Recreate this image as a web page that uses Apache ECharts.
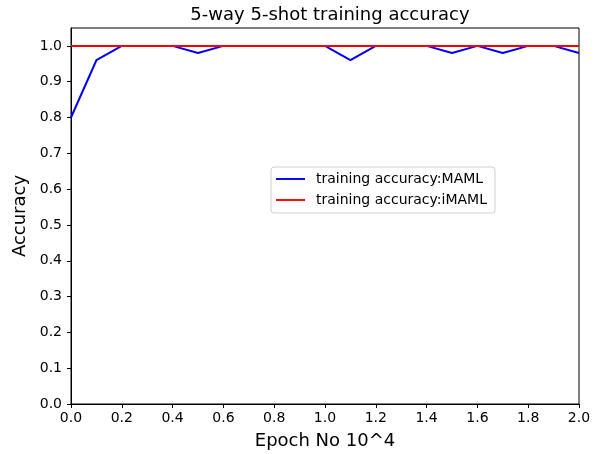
<!DOCTYPE html>
<html>
<head>
<meta charset="utf-8">
<script src="https://cdn.jsdelivr.net/npm/echarts@6/dist/echarts.min.js"></script>
<style>
  html, body { margin: 0; padding: 0; background: #fff; }
  #chart { width: 601px; height: 454px; }
</style>
</head>
<body>
<div id="chart"></div>
<script>
// epochs (x 10^4)
var epochs = [0.0, 0.1, 0.2, 0.3, 0.4, 0.5, 0.6, 0.7, 0.8, 0.9, 1.0,
              1.1, 1.2, 1.3, 1.4, 1.5, 1.6, 1.7, 1.8, 1.9, 2.0];
var accMAML = [0.80, 0.96, 1.00, 1.00, 1.00, 0.98, 1.00, 1.00, 1.00, 1.00, 1.00,
               0.96, 1.00, 1.00, 1.00, 0.98, 1.00, 0.98, 1.00, 1.00, 0.98];
var accIMAML = [1.00, 1.00, 1.00, 1.00, 1.00, 1.00, 1.00, 1.00, 1.00, 1.00, 1.00,
                1.00, 1.00, 1.00, 1.00, 1.00, 1.00, 1.00, 1.00, 1.00, 1.00];
var yTicks = [0.0, 0.1, 0.2, 0.3, 0.4, 0.5, 0.6, 0.7, 0.8, 0.9, 1.0];
var xTicks = [0.0, 0.2, 0.4, 0.6, 0.8, 1.0, 1.2, 1.4, 1.6, 1.8, 2.0];

function pairs(xs, ys) {
  var out = [];
  for (var i = 0; i < xs.length; i++) out.push([xs[i], ys[i]]);
  return out;
}

var font = "DejaVu Sans";
var linePath = "path://M0,0 L30,0 L30,2 L0,2 Z";

var option = {
  animation: false,
  backgroundColor: "#fff",
  textStyle: { fontFamily: font },
  title: {
    text: "5-way 5-shot training accuracy",
    left: 325,
    textAlign: "center",
    top: 1,
    textStyle: { fontFamily: font, fontSize: 18, fontWeight: "normal", color: "#000" }
  },
  legend: {
    left: 271,
    top: 167,
    orient: "vertical",
    itemWidth: 29,
    itemHeight: 2,
    itemGap: 7,
    padding: [5, 8, 6, 5],
    borderColor: "#d0d0d0",
    borderWidth: 1,
    borderRadius: 3,
    backgroundColor: "#fff",
    textStyle: { fontFamily: font, fontSize: 14, color: "#000", padding: [0, 0, 0, 6] },
    data: [
      { name: "training accuracy:MAML", icon: linePath },
      { name: "training accuracy:iMAML", icon: linePath }
    ]
  },
  grid: {
    left: 71,
    right: 22,
    top: 28,
    bottom: 50,
    outerBoundsMode: "none",
    show: true,
    borderColor: "#000",
    borderWidth: 1,
    backgroundColor: "transparent"
  },
  xAxis: {
    type: "value",
    min: 0,
    max: 2,
    interval: 0.2,
    name: "Epoch No 10^4",
    nameLocation: "middle",
    nameGap: 28,
    nameTextStyle: { fontFamily: font, fontSize: 18, color: "#000" },
    axisLine: { show: true, lineStyle: { color: "#000", width: 1 } },
    axisTick: { show: true, inside: false, length: 4, lineStyle: { color: "#000" }, customValues: xTicks },
    axisLabel: {
      fontFamily: font, fontSize: 14, color: "#000", margin: 7,
      customValues: xTicks,
      formatter: function(v) { return v.toFixed(1); }
    },
    splitLine: { show: false }
  },
  yAxis: {
    type: "value",
    min: 0,
    max: 1.05,
    name: "Accuracy",
    nameLocation: "middle",
    nameGap: 40,
    nameTextStyle: { fontFamily: font, fontSize: 18, color: "#000" },
    axisLine: { show: true, lineStyle: { color: "#000", width: 1 } },
    axisTick: { show: true, inside: false, length: 4, lineStyle: { color: "#000" }, customValues: yTicks },
    axisLabel: {
      fontFamily: font, fontSize: 14, color: "#000", margin: 9,
      customValues: yTicks,
      formatter: function(v) { return v.toFixed(1); }
    },
    splitLine: { show: false }
  },
  series: [
    {
      name: "training accuracy:MAML",
      type: "line",
      data: pairs(epochs, accMAML),
      showSymbol: false,
      symbol: "none",
      color: "#0000ff",
      lineStyle: { color: "#0000ff", width: 2 },
      z: 2
    },
    {
      name: "training accuracy:iMAML",
      type: "line",
      data: pairs(epochs, accIMAML),
      showSymbol: false,
      symbol: "none",
      color: "#ff0000",
      lineStyle: { color: "#ff0000", width: 2 },
      z: 3
    }
  ]
};

var myChart = echarts.init(document.getElementById("chart"));
myChart.setOption(option);
</script>
</body>
</html>
